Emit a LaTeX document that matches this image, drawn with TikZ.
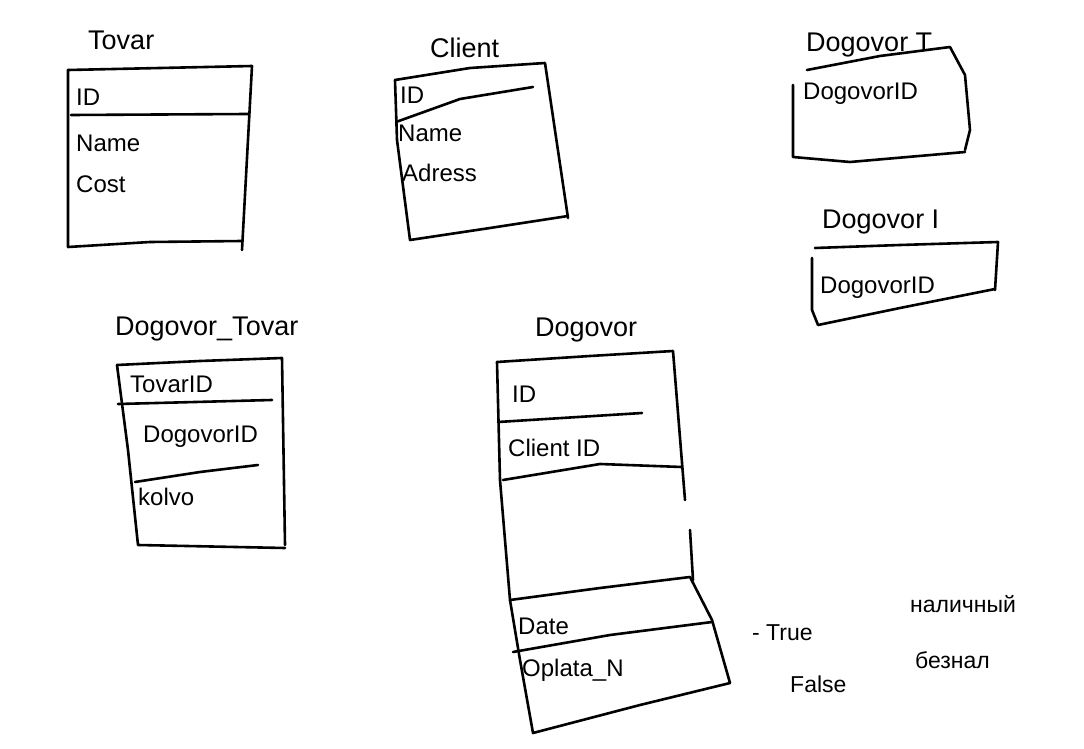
\documentclass[tikz,border=0pt]{standalone}
\usepackage{fontspec}
\setmainfont{Liberation Sans}
\usetikzlibrary{positioning}

\begin{document}
\begin{tikzpicture}[x=1pt, y=-1pt, line cap=round, line join=round]

	\tikzset{
		pen/.style={line width=2.6pt, black},
		title/.style={font=\fontsize{27}{30}\selectfont, anchor=base west, inner sep=0pt},
		field/.style={font=\fontsize{24}{26}\selectfont, anchor=base west, inner sep=0pt},
		note/.style={font=\fontsize{23}{26}\selectfont, anchor=base west, inner sep=0pt}
	}

	\useasboundingbox[fill=white] (0,0) rectangle (1084,749);

	% Tovar
	\node[title] (tovarT) at (88,50) {Tovar};
	\draw[pen] (68,70) -- (160,68) -- (252,66) -- (242,250);
	\draw[pen] (68,70) -- (68,247) -- (150,242) -- (242,241);
	\draw[pen] (71,115) -- (248,114);
	\node[field] (tovarId) at (76,106) {ID};
	\node[field] (tovarName) at (76,151) {Name};
	\node[field] (tovarCost) at (76,192) {Cost};

	% Client
	\node[title] (clientT) at (430,58) {Client};
	\draw[pen] (395,80) -- (470,68) -- (545,63) -- (568,218);
	\draw[pen] (395,80) -- (397,140) -- (410,240) -- (490,228) -- (568,216);
	\draw[pen] (396,122) -- (460,99) -- (533,87);
	\node[field] (clientId) at (400,104) {ID};
	\node[field] (clientName) at (398,142) {Name};
	\node[field] (clientAdr) at (402,181) {Adress};

	% Dogovor T
	\node[title] (dogTT) at (806,52) {Dogovor T};
	\draw[pen] (807,70) -- (880,56) -- (950,47) -- (965,75) -- (970,130) -- (965,150);
	\draw[pen] (793,85) -- (793,157) -- (850,162) -- (965,152);
	\node[field] (dogTId) at (803,100) {DogovorID};

	% Dogovor I
	\node[title] (dogIT) at (822,228) {Dogovor I};
	\draw[pen] (815,248) -- (900,245) -- (998,242) -- (995,290);
	\draw[pen] (812,258) -- (812,310) -- (818,325) -- (900,308) -- (995,289);
	\node[field] (dogIId) at (820,293) {DogovorID};

	% Dogovor_Tovar
	\node[title] (dtT) at (115,335) {Dogovor\_Tovar};
	\draw[pen] (117,365) -- (200,361) -- (282,358) -- (285,545);
	\draw[pen] (117,365) -- (128,450) -- (138,545) -- (285,548);
	\draw[pen] (118,404) -- (272,400);
	\draw[pen] (135,482) -- (200,472) -- (258,465);
	\node[field] (dtTovar) at (130,392) {TovarID};
	\node[field] (dtDog) at (143,442) {DogovorID};
	\node[field] (dtKol) at (138,505) {kolvo};

	% Dogovor
	\node[title] (dogT) at (535,336) {Dogovor};
	\draw[pen] (497,362) -- (590,356) -- (673,351) -- (685,500);
	\draw[pen] (690,530) -- (693,580);
	\draw[pen] (497,362) -- (500,480) -- (510,600);
	\draw[pen] (498,422) -- (642,413);
	\draw[pen] (503,480) -- (600,464) -- (682,467);
	% lower part
	\draw[pen] (510,600) -- (600,588) -- (690,577) -- (712,620) -- (730,683);
	\draw[pen] (510,600) -- (520,660) -- (533,733) -- (640,705) -- (730,683);
	\draw[pen] (513,652) -- (610,635) -- (712,622);
	\node[field] (dogId) at (512,402) {ID};
	\node[field] (dogClient) at (508,456) {Client ID};
	\node[field] (dogDate) at (518,634) {Date};
	\node[field] (dogOpl) at (522,676) {Oplata\_N};

	% notes
	\node[note] (nTrue) at (752,640) {- True};
	\node[note] (nFalse) at (790,692) {False};
	\node[note] (nCash) at (910,612) {наличный};
	\node[note] (nNoCash) at (915,668) {безнал};

\end{tikzpicture}
\end{document}
